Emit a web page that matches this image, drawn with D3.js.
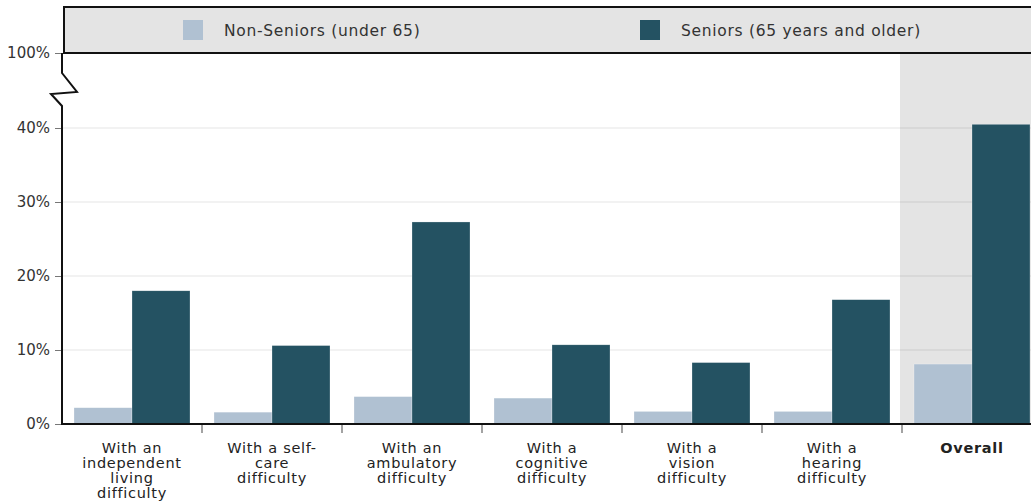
<!DOCTYPE html>
<html>
<head>
<meta charset="utf-8">
<style>
    body { margin: 0; background: #fff; }
    svg { display: block; font-family: Verdana, "DejaVu Sans", sans-serif; }
    .y .tick text { fill: #333; font-size: 15px; }
    .legend-text { fill: #333; font-size: 15.5px; letter-spacing: 0.7px; }
    .x-label { fill: #222; font-size: 14.5px; letter-spacing: 0.7px; }
    .x-label.bold { font-weight: bold; }
</style>
</head>
<body>
<svg width="1031" height="501"></svg>
<script src="https://cdn.jsdelivr.net/npm/d3@7"></script>
<script>
    // data
    let categories = [
        ["With an", "independent", "living", "difficulty"],
        ["With a self-", "care", "difficulty"],
        ["With an", "ambulatory", "difficulty"],
        ["With a", "cognitive", "difficulty"],
        ["With a", "vision", "difficulty"],
        ["With a", "hearing", "difficulty"],
        ["Overall"]
    ];
    let series = ["Non-Seniors (under 65)", "Seniors (65 years and older)"];
    let nonSeniors = [2.2, 1.6, 3.7, 3.5, 1.7, 1.7, 8.1];
    let seniors = [18.0, 10.6, 27.3, 10.7, 8.3, 16.8, 40.5];
    let yTicks = [0, 10, 20, 30, 40, 100];
    let colors = ["#b0c1d2", "#245262"];

    let svg = d3.select("svg");
    let plotLeft = 62, plotTop = 53, plotBottom = 424;

    let keys = categories.map((c, i) => i);
    let x = d3.scaleBand().domain(keys).range([plotLeft, plotLeft + 140 * categories.length]);
    let x1 = d3.scaleBand().domain(series).range([12, 128]);
    // broken axis: 0-45 linear, then a squeezed jump up to 100
    let y = d3.scaleLinear().domain([0, 45, 100]).range([plotBottom, 91, plotTop]);

    // shaded "Overall" column
    svg.append("rect")
        .attr("x", x(6) - 2)
        .attr("y", plotTop)
        .attr("width", 200)
        .attr("height", plotBottom - plotTop)
        .attr("fill", "#e4e4e4");

    // gridlines
    svg.append("g")
        .selectAll("line")
        .data(yTicks.filter(d => d > 0 && d < 100))
        .join("line")
        .attr("x1", plotLeft)
        .attr("x2", 1031)
        .attr("y1", d => y(d))
        .attr("y2", d => y(d))
        .attr("stroke", "rgba(0,0,0,0.07)")
        .attr("stroke-width", 1.5);

    // bars
    let rows = keys.map(i => ({ i: i, vals: [nonSeniors[i], seniors[i]] }));
    svg.append("g")
        .selectAll("g")
        .data(rows)
        .join("g")
        .attr("transform", d => `translate(${x(d.i)},0)`)
        .selectAll("rect")
        .data(d => d.vals.map((v, j) => ({ key: series[j], v: v, j: j })))
        .join("rect")
        .attr("x", d => x1(d.key))
        .attr("width", x1.bandwidth())
        .attr("y", d => y(d.v))
        .attr("height", d => y(0) - y(d.v))
        .attr("fill", d => colors[d.j])
        .attr("stroke", "rgba(255,255,255,0.5)")
        .attr("stroke-width", 0.5);

    // y axis
    let yAxis = svg.append("g")
        .attr("class", "y axis")
        .attr("transform", `translate(${plotLeft},0)`)
        .call(d3.axisLeft(y).tickValues(yTicks).tickSize(7).tickPadding(5).tickFormat(d => d + "%"))
        .call(g => g.select(".domain").remove());
    yAxis.selectAll(".tick line").attr("stroke", "#777");
    yAxis.attr("font-family", null).attr("font-size", null);

    // axis line with zigzag break
    svg.append("path")
        .attr("d", d3.line()([
            [plotLeft, plotBottom], [plotLeft, 106], [51, 94], [77, 92], [plotLeft, 73], [plotLeft, plotTop]
        ]))
        .attr("fill", "none")
        .attr("stroke", "#111")
        .attr("stroke-width", 2);

    // x axis
    svg.append("g")
        .selectAll("line")
        .data(keys.slice(1))
        .join("line")
        .attr("x1", d => x(d))
        .attr("x2", d => x(d))
        .attr("y1", plotBottom)
        .attr("y2", plotBottom + 9)
        .attr("stroke", "#666")
        .attr("stroke-width", 1.2);
    svg.append("line")
        .attr("x1", plotLeft - 1)
        .attr("x2", 1031)
        .attr("y1", plotBottom)
        .attr("y2", plotBottom)
        .attr("stroke", "#111")
        .attr("stroke-width", 2);

    // category labels
    svg.append("g")
        .selectAll("text")
        .data(keys)
        .join("text")
        .attr("class", d => d == 6 ? "x-label bold" : "x-label")
        .attr("text-anchor", "middle")
        .attr("x", d => x(d) + x.bandwidth() / 2)
        .attr("y", 453)
        .selectAll("tspan")
        .data(d => categories[d].map((t, k) => ({ t: t, k: k, cx: x(d) + x.bandwidth() / 2 })))
        .join("tspan")
        .attr("x", d => d.cx)
        .attr("dy", d => d.k == 0 ? 0 : 15)
        .text(d => d.t);

    // legend
    svg.append("rect")
        .attr("x", 64)
        .attr("y", 7)
        .attr("width", 1000)
        .attr("height", 46)
        .attr("fill", "#e4e4e4")
        .attr("stroke", "#111")
        .attr("stroke-width", 2);
    let legX = [183, 640];
    series.forEach((s, i) => {
        svg.append("rect")
            .attr("x", legX[i])
            .attr("y", 20)
            .attr("width", 20)
            .attr("height", 20)
            .attr("fill", colors[i]);
        svg.append("text")
            .attr("class", "legend-text")
            .attr("x", legX[i] + 41)
            .attr("y", 36)
            .text(s);
    });
</script>
</body>
</html>
